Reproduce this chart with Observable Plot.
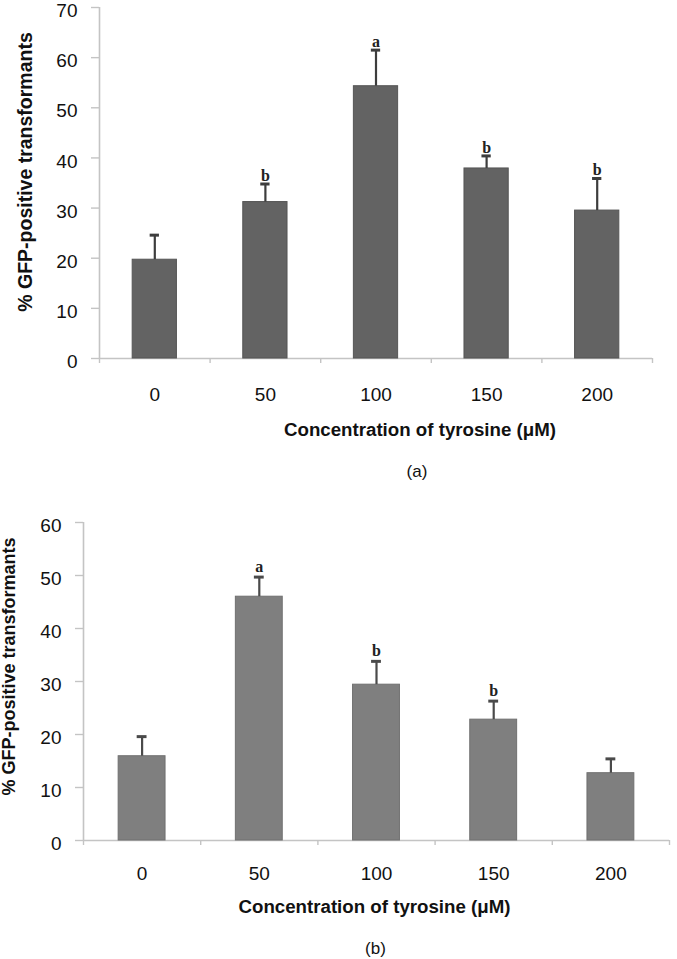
<!DOCTYPE html>
<html>
<head>
<meta charset="utf-8">
<script src="https://cdn.jsdelivr.net/npm/d3@7"></script>
<script src="https://cdn.jsdelivr.net/npm/@observablehq/plot@0.6"></script>
<style>
  html, body { margin: 0; padding: 0; background: #fff; }
  #wrap { position: relative; width: 677px; height: 959px; }
  #wrap > svg { position: absolute; left: 0; overflow: visible; }
</style>
</head>
<body>
<div id="wrap"></div>
<script>
// ---- data ----
const concentrations = ["0", "50", "100", "150", "200"];
const meanA = [19.7, 31.2, 54.3, 37.9, 29.5];
const errTopA = [24.6, 34.8, 61.5, 40.4, 35.9];
const lettersA = ["", "b", "a", "b", "b"];
const meanB = [15.9, 46.0, 29.4, 22.8, 12.7];
const errTopB = [19.6, 49.7, 33.8, 26.3, 15.4];
const lettersB = ["", "a", "b", "b", ""];
const yTicksA = [0, 10, 20, 30, 40, 50, 60, 70];
const yTicksB = [0, 10, 20, 30, 40, 50, 60];
const xTitle = "Concentration of tyrosine (μM)";
const yTitle = "% GFP-positive transformants";

const SANS = "Arial, 'Liberation Sans', sans-serif";
const SERIF = "'Times New Roman', 'Liberation Serif', serif";
const AXIS = "#c4c4c4";

function makeChart(opts) {
  const rows = concentrations.map((c, i) => ({
    i, c, mean: opts.mean[i], err: opts.err[i], letter: opts.letters[i]
  }));
  const bounds = d3.range(concentrations.length + 1).map(k => k - 0.5);
  const yMax = opts.yTicks[opts.yTicks.length - 1];
  return Plot.plot({
    width: 677,
    height: opts.height,
    marginTop: opts.mt,
    marginBottom: opts.mb,
    marginLeft: opts.ml,
    marginRight: opts.mr,
    style: { fontFamily: SANS, background: "transparent", color: "#111", overflow: "visible" },
    x: { domain: [-0.5, concentrations.length - 0.5], axis: null },
    y: { domain: [0, yMax], axis: null },
    marks: [
      // axis lines
      Plot.ruleX([-0.5], { y1: 0, y2: yMax, stroke: AXIS, strokeWidth: 1.6 }),
      Plot.ruleY([0], { x1: -0.5, x2: concentrations.length - 0.5, stroke: AXIS, strokeWidth: 1.6 }),
      // y axis ticks
      Plot.axisY({ ticks: opts.yTicks, tickSize: 8, tickFormat: () => "", stroke: AXIS, strokeWidth: 1.4, label: null }),
      // y axis labels (sit slightly below their ticks, as in the original)
      Plot.axisY({ ticks: opts.yTicks, tickSize: 0, tickPadding: 22, dy: 3.5, fill: "#111", fontSize: opts.tickFont, label: null }),
      // x axis boundary tick marks
      Plot.axisX({ ticks: bounds, tickSize: 5, tickFormat: () => "", stroke: AXIS, strokeWidth: 1.4, label: null }),
      // x axis category labels
      Plot.axisX({ ticks: rows.map(d => d.i), tickSize: 0, tickPadding: opts.xPad, tickFormat: k => concentrations[k], fill: "#111", fontSize: opts.tickFont, label: null }),
      // bars
      Plot.rectY(rows, { x1: d => d.i - 0.2, x2: d => d.i + 0.2, y1: 0, y2: "mean", fill: opts.barColor, stroke: opts.barEdge, strokeWidth: 1 }),
      // error bars
      Plot.ruleX(rows, { x: "i", y1: "mean", y2: "err", stroke: opts.errColor, strokeWidth: 2.2 }),
      Plot.ruleY(rows, { y: "err", x1: d => d.i - 0.042, x2: d => d.i + 0.042, stroke: opts.errColor, strokeWidth: 3 }),
      // significance letters
      Plot.text(rows, { x: "i", y: "err", text: "letter", dy: opts.letterDy, lineAnchor: "bottom", fontFamily: SERIF, fontWeight: "bold", fontSize: 16, fill: "#222" }),
      // axis titles
      Plot.text([xTitle], { frameAnchor: "bottom", textAnchor: "middle", dx: opts.xTitleDx, dy: opts.xTitleDy, lineAnchor: "middle", fontWeight: "bold", fontSize: 18.7, fill: "#111" }),
      Plot.text([yTitle], { frameAnchor: "left", textAnchor: "middle", rotate: -90, dx: opts.yTitleDx, dy: opts.yTitleDy, lineAnchor: "middle", fontWeight: "bold", fontSize: opts.yTitleFont, fill: "#111" }),
      // panel caption
      Plot.text([opts.caption], { frameAnchor: "bottom", textAnchor: "middle", dx: opts.capDx, dy: opts.capDy, lineAnchor: "middle", fontSize: 17, fill: "#111" })
    ]
  });
}

const wrap = document.getElementById("wrap");

const chartA = makeChart({
  mean: meanA, err: errTopA, letters: lettersA, yTicks: yTicksA,
  height: 480, mt: 7, mb: 122, ml: 99, mr: 25,
  tickFont: 19, xPad: 29, letterDy: -3,
  barColor: "#636363", barEdge: "#555", errColor: "#3d3d3d",
  xTitleDx: 44, xTitleDy: 72, yTitleDx: -74, yTitleDy: -11, yTitleFont: 19.5,
  caption: "(a)", capDx: 41, capDy: 113
});
chartA.style.top = "0px";
wrap.appendChild(chartA);

const chartB = makeChart({
  mean: meanB, err: errTopB, letters: lettersB, yTicks: yTicksB,
  height: 479, mt: 42, mb: 119, ml: 83, mr: 8,
  tickFont: 19, xPad: 26, letterDy: -5,
  barColor: "#7f7f7f", barEdge: "#707070", errColor: "#4a4a4a",
  xTitleDx: -2, xTitleDy: 67, yTitleDx: -74, yTitleDy: -15, yTitleFont: 18,
  caption: "(b)", capDx: -1, capDy: 108
});
chartB.style.top = "480px";
wrap.appendChild(chartB);
</script>
</body>
</html>
